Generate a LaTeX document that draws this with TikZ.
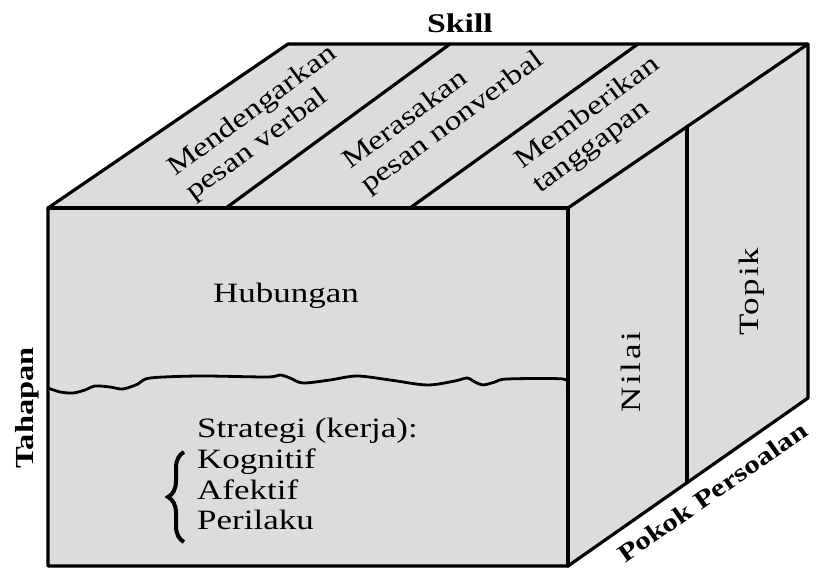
\documentclass[tikz,border=0pt]{standalone}
\usepackage{fontspec}
\setmainfont{Liberation Serif}[FakeStretch=1.25]
\usetikzlibrary{calc,decorations.pathreplacing}
\definecolor{facegray}{RGB}{220,220,220}
\begin{document}
\begin{tikzpicture}[x=1pt,y=1pt,
  edge/.style={line width=3.2pt, line join=round, line cap=round},
  face/.style={fill=facegray},
  lbl/.style={font=\fontsize{28}{32}\selectfont, inner sep=0pt},
  toplbl/.style={font=\fontsize{27}{31}\selectfont, inner sep=0pt, rotate=36.5, anchor=base west},
  axislbl/.style={font=\bfseries\fontsize{28}{32}\selectfont, inner sep=0pt, anchor=base},
]
\useasboundingbox (0,0) rectangle (818,569);
% cube corners
\coordinate (A) at (48,361);
\coordinate (B) at (568,361);
\coordinate (C) at (568,3);
\coordinate (D) at (48,3);
\coordinate (E) at (288,525);
\coordinate (F) at (808,525);
\coordinate (G) at (808,171);
\coordinate (T1a) at (226,361); \coordinate (T1b) at (450,525);
\coordinate (T2a) at (410,361); \coordinate (T2b) at (638,525);
\coordinate (R1a) at ($(B)!0.496!(F)$);
\coordinate (R1b) at ($(C)!0.496!(G)$);
% faces
\fill[face] (A) -- (B) -- (C) -- (D) -- cycle;
\fill[face] (A) -- (E) -- (F) -- (B) -- cycle;
\fill[face] (B) -- (F) -- (G) -- (C) -- cycle;
% edges
\draw[edge] (A) -- (E) -- (F) -- (G) -- (C) -- (D) -- cycle;
\draw[edge] (A) -- (B) -- (C);
\draw[edge] (B) -- (F);
\draw[edge] (T1a) -- (T1b);
\draw[edge] (T2a) -- (T2b);
\draw[edge] (R1a) -- (R1b);
% wavy separator
\draw[edge, line width=2.8pt] plot[smooth, tension=0.5] coordinates {
  (48,181) (60,177) (73,176) (85,179) (95,183) (110,182) (123,180) (138,185)
  (150,191) (200,193) (267,192) (280,194) (290,191) (303,186) (330,189)
  (357,193) (390,189) (427,184) (455,188) (467,191) (475,187) (483,184)
  (495,187) (507,190) (563,190) (567,183)};
% axis labels
\node[axislbl, font=\bfseries\fontsize{27}{31}\selectfont] (skill) at (460,536) {Skill};
\node[axislbl, rotate=90, font=\bfseries\fontsize{26}{30}\selectfont] (tahapan) at (33,161) {Tahapan};
\node[axislbl, rotate=35, anchor=base west, font=\bfseries\fontsize{25}{30}\selectfont] (pokok) at (625,5) {Pokok Persoalan};
% top face labels
\node[toplbl] (m1) at (175,392) {Mendengarkan};
\node[toplbl] (m2) at ($(m1.base west)+(-53.5:30)$) {pesan verbal};
\node[toplbl] (r1) at (350,399) {Merasakan};
\node[toplbl] (r2) at ($(r1.base west)+(-53.5:30)$) {pesan nonverbal};
\node[toplbl] (b1) at (522,399) {Memberikan};
\node[toplbl] (b2) at ($(b1.base west)+(-53.5:30)$) {tanggapan};
% front face labels
\node[lbl, anchor=base] (hub) at (286,266) {Hubungan};
\node[lbl, anchor=base west] (strat) at (197,131) {Strategi (kerja):};
\node[lbl, anchor=base west] (kog) at (197,100) {Kognitif};
\node[lbl, anchor=base west] (afe) at (197,69) {Afektif};
\node[lbl, anchor=base west] (per) at (197,39) {Perilaku};
\draw[line width=4pt, decorate, decoration={brace, amplitude=16pt}] (184,27) -- (184,117);
% right face labels
\node[lbl, anchor=base, rotate=90, font=\addfontfeatures{LetterSpace=10}\fontsize{28}{32}\selectfont] (nilai) at (640,197) {Nilai};
\node[lbl, anchor=base, rotate=90, font=\addfontfeatures{LetterSpace=6}\fontsize{28}{32}\selectfont] (topik) at (758,277) {Topik};
\end{tikzpicture}
\end{document}
